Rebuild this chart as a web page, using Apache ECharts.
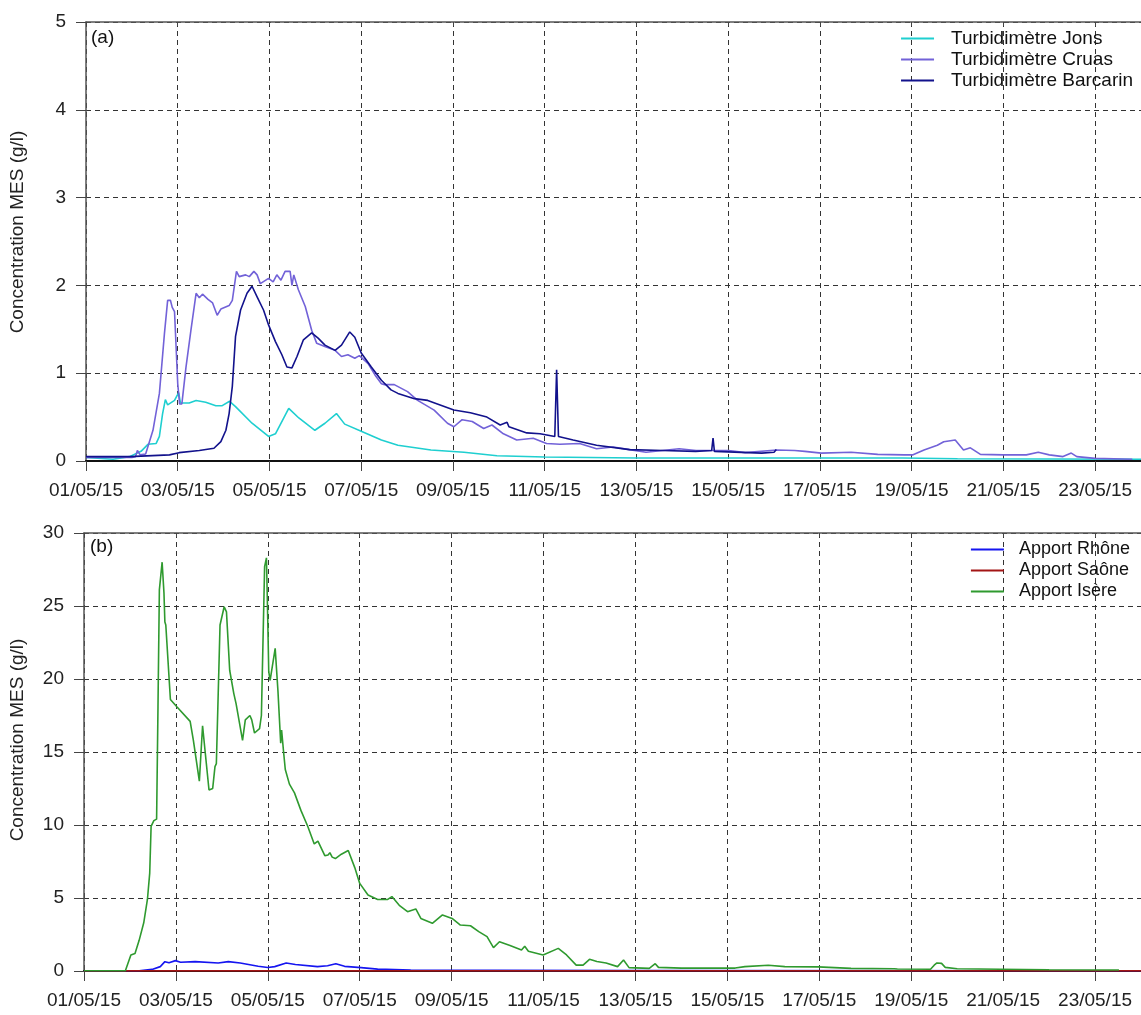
<!DOCTYPE html>
<html>
<head>
<meta charset="utf-8">
<script src="https://cdn.jsdelivr.net/npm/echarts@6/dist/echarts.min.js"></script>
<style>
html,body{margin:0;padding:0;background:#fff;}
#chart{width:1141px;height:1015px;}
</style>
</head>
<body>
<div id="chart"></div>
<script>
// x values are days since 01/05/15
const xTickLabels = ['01/05/15','03/05/15','05/05/15','07/05/15','09/05/15','11/05/15','13/05/15','15/05/15','17/05/15','19/05/15','21/05/15','23/05/15'];
const topYTicks = [0,1,2,3,4,5];
const bottomYTicks = [0,5,10,15,20,25,30];

const seriesNamesTop = ['Turbidimètre Jons','Turbidimètre Cruas','Turbidimètre Barcarin'];
const seriesNamesBottom = ['Apport Rhône','Apport Saône','Apport Isère'];

const jons = [[0,0.04],[0.59,0.02],[0.95,0.05],[1.2,0.11],[1.35,0.19],[1.53,0.2],[1.6,0.28],[1.67,0.54],[1.73,0.70],[1.78,0.64],[1.93,0.69],[2.02,0.78],[2.06,0.66],[2.25,0.66],[2.40,0.69],[2.61,0.67],[2.83,0.63],[2.97,0.63],[3.13,0.68],[3.26,0.62],[3.62,0.43],[3.98,0.28],[4.13,0.31],[4.42,0.6],[4.64,0.49],[4.99,0.35],[5.21,0.43],[5.46,0.54],[5.64,0.42],[6.0,0.34],[6.44,0.24],[6.8,0.18],[7.52,0.125],[8.24,0.1],[8.96,0.06],[10.0,0.045],[12,0.035],[15,0.035],[17.8,0.035],[19,0.025],[23,0.02]];

const cruas = [[0,0.04],[1.0,0.04],[1.08,0.05],[1.12,0.12],[1.18,0.07],[1.3,0.08],[1.46,0.35],[1.6,0.77],[1.71,1.45],[1.78,1.83],[1.84,1.83],[1.88,1.75],[1.93,1.7],[2.0,0.88],[2.04,0.65],[2.09,0.65],[2.18,1.07],[2.29,1.5],[2.40,1.91],[2.47,1.86],[2.54,1.9],[2.66,1.84],[2.76,1.8],[2.86,1.66],[2.94,1.73],[3.12,1.77],[3.19,1.83],[3.28,2.16],[3.34,2.1],[3.48,2.12],[3.56,2.1],[3.66,2.16],[3.73,2.12],[3.80,2.02],[3.98,2.08],[4.08,2.04],[4.16,2.12],[4.25,2.06],[4.34,2.16],[4.45,2.16],[4.49,2.0],[4.53,2.12],[4.63,1.95],[4.78,1.76],[4.92,1.49],[5.03,1.34],[5.22,1.30],[5.43,1.26],[5.57,1.19],[5.71,1.21],[5.86,1.17],[5.96,1.2],[6.15,1.11],[6.30,0.98],[6.44,0.88],[6.51,0.87],[6.72,0.87],[7.01,0.79],[7.23,0.69],[7.59,0.58],[7.88,0.43],[8.02,0.39],[8.2,0.47],[8.42,0.45],[8.67,0.37],[8.85,0.41],[9.1,0.31],[9.39,0.24],[9.75,0.26],[10.04,0.2],[10.33,0.19],[10.76,0.2],[11.13,0.14],[11.49,0.16],[11.85,0.13],[12.21,0.1],[12.93,0.14],[13.3,0.12],[14.01,0.12],[14.37,0.095],[15.06,0.125],[15.45,0.12],[15.67,0.11],[16.03,0.09],[16.68,0.1],[17.26,0.075],[17.84,0.07],[18.03,0.07],[18.27,0.125],[18.56,0.18],[18.7,0.22],[18.95,0.24],[19.13,0.125],[19.28,0.15],[19.5,0.075],[20.0,0.07],[20.5,0.07],[20.76,0.1],[21.0,0.07],[21.3,0.05],[21.48,0.09],[21.6,0.05],[22.0,0.03],[22.81,0.02]];

const barcarin = [[0,0.05],[0.95,0.05],[1.82,0.07],[2.03,0.095],[2.47,0.12],[2.79,0.145],[2.94,0.22],[3.05,0.35],[3.12,0.54],[3.19,0.85],[3.26,1.42],[3.37,1.72],[3.51,1.91],[3.62,1.99],[3.73,1.87],[3.87,1.72],[3.98,1.55],[4.13,1.36],[4.27,1.21],[4.38,1.07],[4.49,1.06],[4.6,1.19],[4.74,1.38],[4.92,1.46],[5.06,1.40],[5.21,1.32],[5.43,1.26],[5.57,1.32],[5.75,1.47],[5.86,1.41],[6.0,1.23],[6.22,1.07],[6.44,0.92],[6.65,0.81],[6.8,0.77],[7.16,0.71],[7.45,0.69],[8.02,0.58],[8.38,0.55],[8.74,0.5],[9.03,0.41],[9.18,0.44],[9.22,0.39],[9.61,0.32],[9.9,0.31],[10.22,0.28],[10.26,1.04],[10.3,0.28],[10.62,0.24],[11.13,0.18],[11.85,0.13],[12.57,0.12],[13.29,0.11],[13.64,0.12],[13.67,0.26],[13.7,0.11],[14.73,0.09],[15.0,0.1],[15.05,0.13]];

const rhone = [[0,0.02],[1.2,0.02],[1.48,0.11],[1.66,0.3],[1.76,0.64],[1.85,0.57],[1.99,0.71],[2.1,0.6],[2.42,0.64],[2.92,0.55],[3.14,0.64],[3.4,0.55],[3.79,0.32],[4.0,0.24],[4.15,0.3],[4.4,0.55],[4.6,0.45],[5.08,0.3],[5.3,0.36],[5.48,0.5],[5.67,0.32],[6.03,0.23],[6.39,0.13],[7.11,0.06],[9,0.04],[12,0.03],[23,0.02]];

const saone = [[0,0.01],[5,0.01],[10,0.01],[15,0.01],[20,0.01],[23,0.01]];

const isere = [[0,0.02],[0.9,0.02],[1.02,1.1],[1.11,1.2],[1.2,2.1],[1.3,3.3],[1.38,4.9],[1.43,6.7],[1.46,9.9],[1.52,10.3],[1.58,10.4],[1.61,18.1],[1.64,26.1],[1.70,28.0],[1.74,25.9],[1.76,23.9],[1.78,23.7],[1.88,18.6],[2.02,18.1],[2.31,17.1],[2.38,15.8],[2.51,13.0],[2.58,16.8],[2.64,14.9],[2.72,12.4],[2.80,12.5],[2.85,14.0],[2.88,14.2],[2.96,23.7],[2.99,23.6],[3.05,24.95],[3.10,24.6],[3.17,20.6],[3.26,19.0],[3.28,19.1],[3.31,18.3],[3.45,15.8],[3.51,17.2],[3.61,17.5],[3.65,17.2],[3.71,16.3],[3.82,16.6],[3.86,17.5],[3.93,27.7],[3.97,28.3],[4.00,23.8],[4.02,20.5],[4.05,19.9],[4.08,19.9],[4.16,22.1],[4.22,19.2],[4.28,15.6],[4.30,16.5],[4.34,15.1],[4.38,13.8],[4.47,12.8],[4.58,12.2],[4.72,11.0],[4.87,9.9],[5.01,8.7],[5.09,8.9],[5.24,7.9],[5.31,7.95],[5.35,8.1],[5.40,7.8],[5.47,7.7],[5.6,8.0],[5.75,8.25],[5.89,7.1],[6.0,6.0],[6.18,5.2],[6.39,4.9],[6.61,4.9],[6.70,5.1],[6.86,4.5],[7.04,4.06],[7.12,4.15],[7.22,4.25],[7.33,3.6],[7.58,3.27],[7.80,3.84],[8.01,3.6],[8.19,3.15],[8.41,3.1],[8.59,2.7],[8.77,2.35],[8.91,1.6],[9.04,2.0],[9.27,1.75],[9.52,1.44],[9.59,1.7],[9.67,1.35],[9.99,1.1],[10.32,1.55],[10.50,1.1],[10.71,0.4],[10.86,0.4],[11.0,0.8],[11.16,0.65],[11.36,0.55],[11.61,0.3],[11.74,0.75],[11.86,0.23],[12.3,0.18],[12.43,0.5],[12.5,0.25],[13.0,0.2],[13.5,0.2],[14.17,0.2],[14.38,0.3],[14.89,0.39],[15.25,0.3],[15.97,0.28],[16.69,0.18],[17.63,0.15],[17.66,0.22],[17.7,0.14],[18.42,0.12],[18.5,0.4],[18.56,0.55],[18.66,0.52],[18.74,0.25],[19.0,0.15],[19.93,0.12],[21,0.09],[22.52,0.07]];

const FONT = "'Liberation Sans', Arial, sans-serif";
const chart = echarts.init(document.getElementById('chart'), null, {renderer:'canvas'});

function xFmt(v){
  if (Math.abs(v/2 - Math.round(v/2)) > 1e-6) return '';
  const l = xTickLabels[Math.round(v/2)];
  return l === undefined ? '' : l;
}

const dash = {type:[5,4], color:'#333', width:1};

function bottomX(gi){
  return {
    gridIndex: gi, type:'value', min:0, max:23, interval:2,
    axisLine:{show:true, onZero:false, lineStyle:{color:'#111', width:2.2}},
    axisTick:{show:true, length:10, lineStyle:{color:'#444', width:1}},
    axisLabel:{formatter:xFmt, fontSize:19, color:'#222', margin:20, fontFamily:FONT, showMaxLabel:false, hideOverlap:false},
    splitLine:{show:true, lineStyle:dash}
  };
}
function topX(gi){
  return {
    gridIndex: gi, type:'value', position:'top', min:0, max:23, interval:2,
    axisLine:{show:true, onZero:false, lineStyle:{color:'#555', width:1.5}},
    axisTick:{show:true, inside:true, length:4, lineStyle:{color:'#444', width:1}},
    axisLabel:{show:false},
    splitLine:{show:false}
  };
}
function yAx(gi, max, interval){
  return {
    gridIndex: gi, type:'value', min:0, max:max, interval:interval,
    axisLine:{show:true, lineStyle:{color:'#555', width:1.5}},
    axisTick:{show:true, length:10, lineStyle:{color:'#444', width:1}},
    axisLabel:{fontSize:19, color:'#222', margin:20, fontFamily:FONT},
    splitLine:{show:true, lineStyle:dash}
  };
}
function line(name, data, color, xi, yi){
  return {name, type:'line', data, xAxisIndex:xi, yAxisIndex:yi, symbol:'none', showSymbol:false,
    lineStyle:{color, width:1.6}, itemStyle:{color}, z:3, silent:true};
}

const legendCommon = {
  orient:'vertical', itemWidth:33, itemHeight:2, itemGap:0, icon:'rect',
  textStyle:{fontSize:19, color:'#111', fontFamily:FONT, lineHeight:21, padding:[0,0,0,12]},
  selectedMode:false
};

chart.setOption({
  animation:false,
  backgroundColor:'#fff',
  textStyle:{fontFamily:FONT},
  grid:[
    {left:86, right:-8, top:22, height:439},
    {left:84, right:-8, top:533, height:438}
  ],
  xAxis:[bottomX(0), topX(0), bottomX(1), topX(1)],
  yAxis:[yAx(0,5,1), yAx(1,30,5)],
  legend:[
    Object.assign({}, legendCommon, {top:23, right:3, data:seriesNamesTop}),
    Object.assign({}, legendCommon, {top:534, right:6, data:seriesNamesBottom,
      textStyle:Object.assign({}, legendCommon.textStyle, {fontSize:18, padding:[0,0,0,10]})})
  ],
  graphic:[
    {type:'text', x:18, y:232, rotation:Math.PI/2, style:{text:'Concentration MES (g/l)', fontSize:19, fontFamily:FONT, fill:'#222', align:'center', verticalAlign:'middle'}},
    {type:'text', x:18, y:740, rotation:Math.PI/2, style:{text:'Concentration MES (g/l)', fontSize:19, fontFamily:FONT, fill:'#222', align:'center', verticalAlign:'middle'}},
    {type:'text', x:91, y:38, style:{text:'(a)', fontSize:19, fontFamily:FONT, fill:'#111', align:'left', verticalAlign:'middle'}},
    {type:'text', x:90, y:547, style:{text:'(b)', fontSize:19, fontFamily:FONT, fill:'#111', align:'left', verticalAlign:'middle'}}
  ],
  series:[
    line(seriesNamesTop[0], jons, '#1fcfd0', 0, 0),
    line(seriesNamesTop[1], cruas, '#7262d8', 0, 0),
    line(seriesNamesTop[2], barcarin, '#12128c', 0, 0),
    line(seriesNamesBottom[0], rhone, '#1515f0', 2, 1),
    line(seriesNamesBottom[1], saone, '#a31515', 2, 1),
    line(seriesNamesBottom[2], isere, '#2f9a2f', 2, 1)
  ]
});
</script>
</body>
</html>
